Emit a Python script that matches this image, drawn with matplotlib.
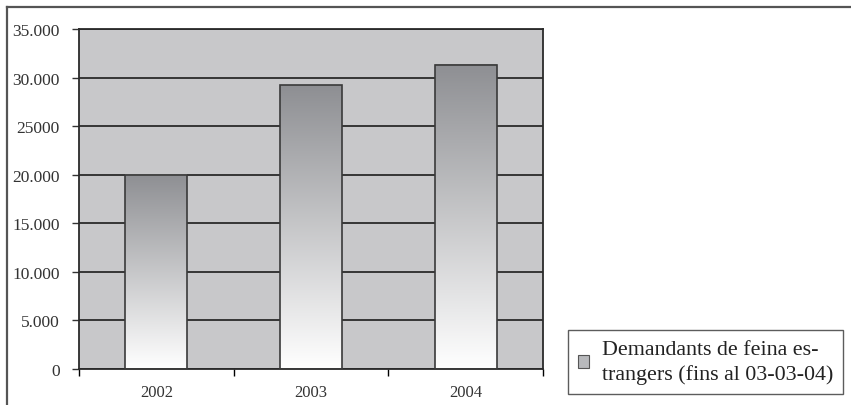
import matplotlib.pyplot as plt
import numpy as np
from matplotlib.lines import Line2D
from matplotlib.patches import Rectangle

anys = ["2002", "2003", "2004"]
demandants = [20000, 29200, 31300]
marques_y = [0, 5000, 10000, 15000, 20000, 25000, 30000, 35000]
etiquetes_y = ["0", "5.000", "10.000", "15.000", "20.000", "25000", "30.000", "35.000"]
llegenda = "Demandants de feina es-\ntrangers (fins al 03-03-04)"

plt.rcParams['font.family'] = ['Liberation Serif', 'DejaVu Serif']

fig = plt.figure(figsize=(8.51, 4.06), dpi=100)
W, H = 851, 406
ax = fig.add_axes([79 / W, 1 - 370 / H, (543 - 79) / W, (370 - 30) / H])

ax.set_facecolor("#c8c8ca")
x = np.arange(len(anys))
barres = ax.bar(x, demandants, width=0.4, color="none", edgecolor="#3a3a3a",
                linewidth=1.2, zorder=3)

# degradat gris fosc a dalt, blanc a baix
cmap_g = plt.matplotlib.colors.LinearSegmentedColormap.from_list(
    "g", ["#ffffff", "#8e8f93"])
grad = np.linspace(0, 1, 256).reshape(-1, 1)
for b in barres:
    x0, y0 = b.get_x(), b.get_y()
    w, h = b.get_width(), b.get_height()
    ax.imshow(grad, extent=(x0, x0 + w, y0, y0 + h), origin="lower",
              cmap=cmap_g, aspect="auto", zorder=2.5)

ax.set_xlim(-0.5, len(anys) - 0.5)
ax.set_ylim(0, 35000)
ax.set_yticks(marques_y)
ax.set_yticklabels(etiquetes_y)
ax.yaxis.grid(True, color="#2a2a2a", linewidth=1.3, zorder=1)
ax.set_axisbelow(True)

ax.set_xticks(x)
ax.set_xticklabels(anys)
ax.tick_params(axis="x", length=0, pad=11, labelsize=12, colors="#333333")
ax.set_xticks(np.arange(len(anys) + 1) - 0.5, minor=True)
ax.tick_params(axis="x", which="minor", length=5, direction="out", width=1)
ax.tick_params(axis="y", length=5, direction="out", width=1, pad=9,
               labelsize=12.5, colors="#333333")
for s in ax.spines.values():
    s.set_color("#2a2a2a")
    s.set_linewidth(1.3)

# marc exterior del gràfic
fig.add_artist(Line2D([7 / W, 1], [1 - 8 / H, 1 - 8 / H], color="#555555",
                      linewidth=1.6, transform=fig.transFigure))
fig.add_artist(Line2D([7 / W, 7 / W], [0, 1 - 8 / H], color="#555555",
                      linewidth=1.6, transform=fig.transFigure))

marca = Rectangle((0, 0), 1, 1, facecolor="#b8b9bc", edgecolor="#555555",
                  linewidth=0.8)
leg = fig.legend([marca], [llegenda], loc="lower left",
                 bbox_to_anchor=(568 / W, 1 - 395 / H), frameon=True,
                 fancybox=False, fontsize=15.8, handlelength=0.5,
                 handleheight=0.5, handletextpad=0.6, borderpad=0.45,
                 borderaxespad=0, labelspacing=0.1)
leg.get_frame().set_edgecolor("#333333")
leg.get_frame().set_linewidth(1.0)
for t in leg.get_texts():
    t.set_linespacing(1.35)
    t.set_color("#222222")

fig.savefig("out.png", dpi=100)
